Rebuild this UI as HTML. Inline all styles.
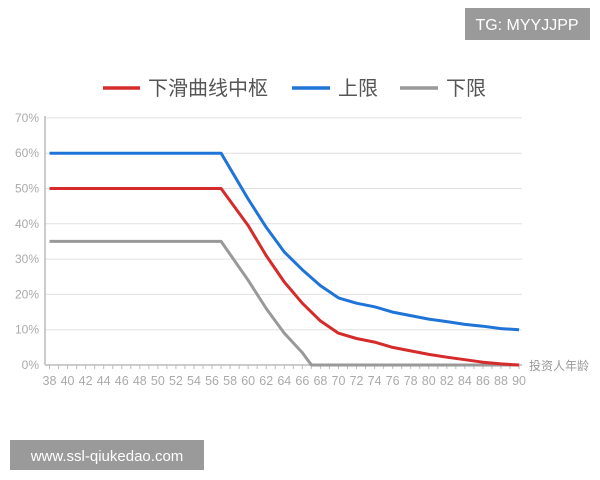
<!DOCTYPE html>
<html><head><meta charset="utf-8"><style>
body{margin:0;background:#fff;width:600px;height:480px;overflow:hidden;font-family:"Liberation Sans","Noto Sans CJK SC",sans-serif;}
</style></head><body>
<svg width="600" height="480" xmlns="http://www.w3.org/2000/svg" style="position:absolute;left:0;top:0">
<rect x="465" y="8" width="125" height="32" fill="#9a9a9a"/>
<text x="527" y="30" font-size="16" fill="#fff" text-anchor="middle" font-family="Liberation Sans,sans-serif">TG: MYYJJPP</text>
<rect x="10" y="440" width="194" height="30" fill="#9a9a9a"/>
<text x="107" y="461" font-size="15" fill="#fff" text-anchor="middle" font-family="Liberation Sans,sans-serif">www.ssl-qiukedao.com</text>
<g stroke-width="3.5">
<line x1="103" y1="88" x2="140" y2="88" stroke="#d62b2b"/>
<line x1="292" y1="88" x2="330" y2="88" stroke="#1f74d8"/>
<line x1="400" y1="88" x2="438" y2="88" stroke="#999"/>
</g>
<g font-size="20" fill="#555" font-family="Liberation Sans,Noto Sans CJK SC,sans-serif">
<text x="148" y="95">下滑曲线中枢</text>
<text x="338" y="95">上限</text>
<text x="446" y="95">下限</text>
</g>
<g id="grid" stroke="#e0e0e0" stroke-width="1"></g>
<g id="yl" font-size="12" fill="#aaa" text-anchor="end"></g>
<g id="xl" font-size="12.5" fill="#aaa" text-anchor="middle"></g>
<line x1="45" y1="116" x2="45" y2="365" stroke="#bbb" stroke-width="1.5"/>
<line x1="45" y1="365" x2="522" y2="365" stroke="#bbb" stroke-width="1.5"/>
<g id="ticks" stroke="#bbb" stroke-width="1"></g>
<text x="529" y="370" font-size="12" fill="#999" font-family="Liberation Sans,Noto Sans CJK SC,sans-serif">投资人年龄</text>
<g id="series" fill="none" stroke-width="3" stroke-linejoin="round"></g>
</svg>
<script>
var NS="http://www.w3.org/2000/svg";
function X(a){return 49.5+(a-38)*9.03}
function Y(p){return 365-p*3.53}
function el(t,at,p,txt){var e=document.createElementNS(NS,t);for(var k in at)e.setAttribute(k,at[k]);if(txt!=null)e.textContent=txt;document.getElementById(p).appendChild(e);}
for(var i=0;i<=7;i++){var y=Y(i*10);if(i>0)el('line',{x1:45,y1:y,x2:522,y2:y},'grid');el('text',{x:39,y:y+4},'yl',i*10+'%');}
for(var a=38;a<=90;a++){el('line',{x1:X(a),y1:365,x2:X(a),y2:369},'ticks');if(a%2==0)el('text',{x:X(a),y:385},'xl',a);}
function path(d,c){var s='';d.forEach(function(p,i){s+=(i?'L':'M')+X(p[0]).toFixed(1)+','+Y(p[1]).toFixed(1)});el('path',{d:s,stroke:c},'series');}
path([[38,35],[57,35],[60,24],[62,16],[64,9],[66,3.5],[67,0],[90,0]],'#999');
path([[38,50],[57,50],[60,39.5],[62,31],[64,23.5],[66,17.5],[68,12.5],[70,9],[72,7.5],[74,6.5],[76,5],[78,4],[80,3],[82,2.2],[84,1.5],[86,0.8],[88,0.3],[90,0]],'#d62b2b');
path([[38,60],[57,60],[60,47],[62,39],[64,32],[66,27],[68,22.5],[70,19],[72,17.5],[74,16.5],[76,15],[78,14],[80,13],[82,12.3],[84,11.5],[86,11],[88,10.3],[90,10]],'#1f74d8');
</script>
</body></html>
